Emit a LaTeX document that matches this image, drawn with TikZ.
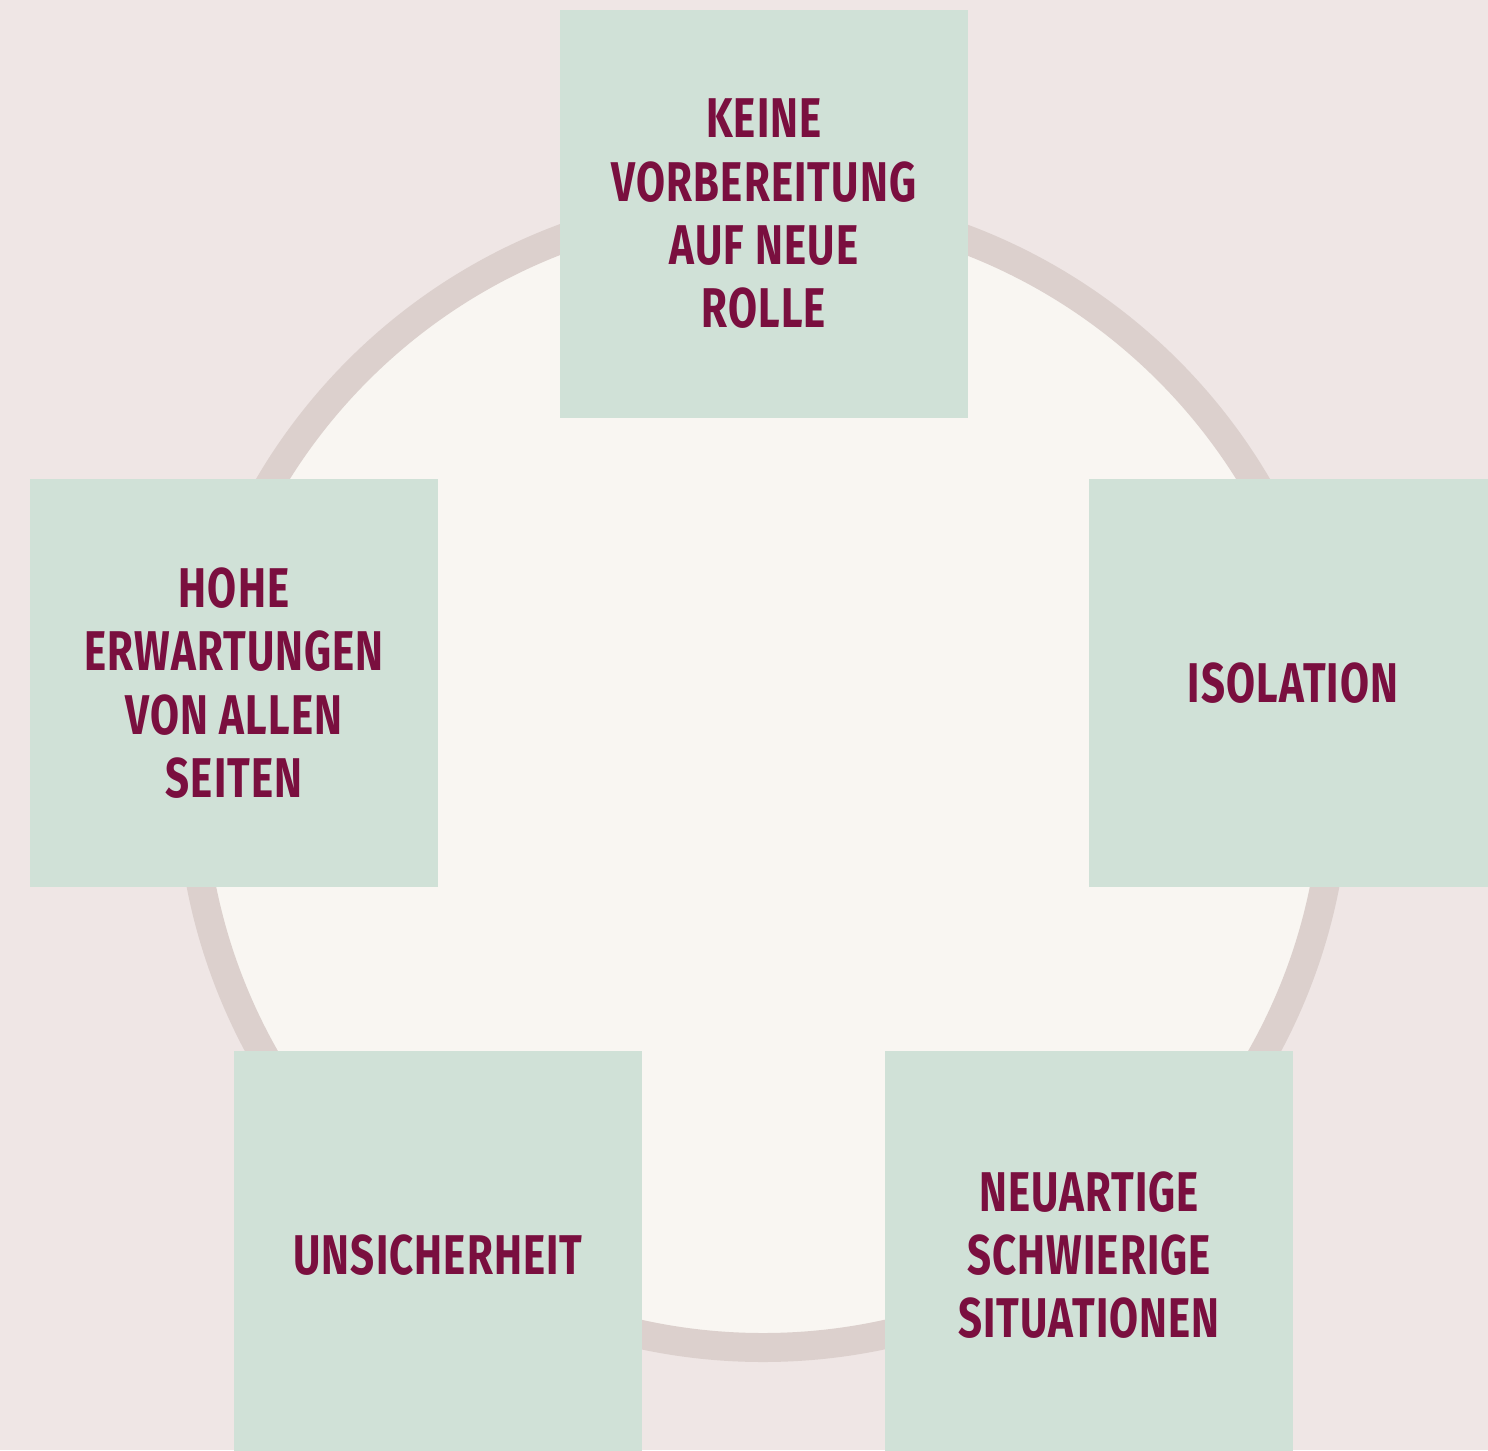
\documentclass[tikz,border=0pt]{standalone}
\usepackage{fontspec}
\setmainfont{Fira Sans}[FakeStretch=0.75,LetterSpace=2]
\definecolor{bgcol}{HTML}{EFE6E5}
\definecolor{ringcol}{HTML}{DCD0CD}
\definecolor{innercol}{HTML}{F9F6F2}
\definecolor{boxcol}{HTML}{D0E1D7}
\definecolor{txtcol}{HTML}{7A0F3F}

\begin{document}
\begin{tikzpicture}[x=0.75pt,y=-0.75pt,
  box/.style={fill=boxcol,minimum size=306pt,inner sep=0pt,align=center,
    text=txtcol,font=\fontsize{42}{47.5}\selectfont\bfseries}]

\useasboundingbox (0,0) rectangle (1488,1450);
\clip (0,0) rectangle (1488,1450);
\fill[bgcol] (0,0) rectangle (1488,1450);

\draw[ringcol,fill=innercol,line width=21.75pt] (763,775) circle (572.5);

\node[box](keine) at (764,214) {KEINE\\VORBEREITUNG\\AUF NEUE\\ROLLE};
\node[box](hohe) at (234,683) {HOHE\\ERWARTUNGEN\\VON ALLEN\\SEITEN};
\node[box](isolation) at (1293,683) {ISOLATION};
\node[box](unsicher) at (438,1255) {UNSICHERHEIT};
\node[box](neuartig) at (1089,1255) {NEUARTIGE\\SCHWIERIGE\\SITUATIONEN};

\end{tikzpicture}
\end{document}
